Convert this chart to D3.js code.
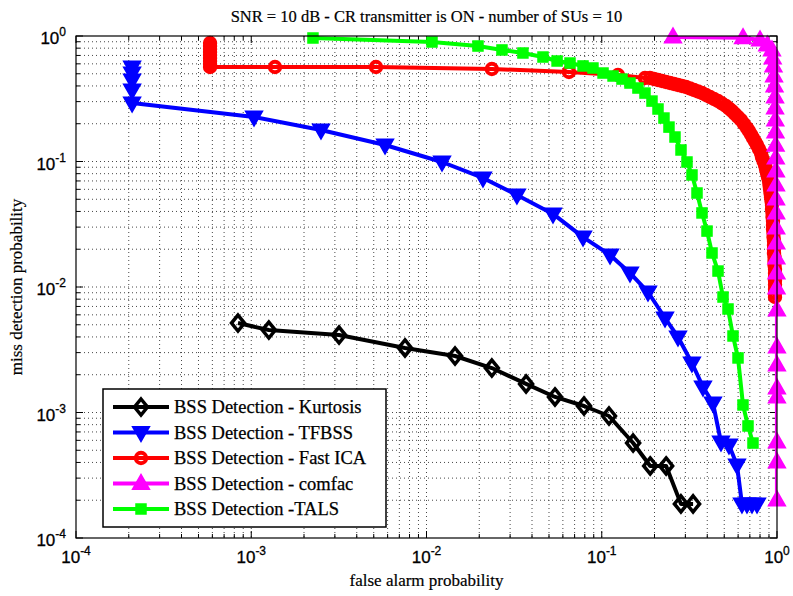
<!DOCTYPE html>
<html>
<head>
<meta charset="utf-8">
<script src="https://cdn.jsdelivr.net/npm/d3@7"></script>
<style>
body { margin: 0; background: #fff; }
svg { display: block; }
.serif { font-family: "Liberation Serif", "Times New Roman", serif; }
.sans { font-family: "Liberation Sans", Arial, sans-serif; }
</style>
</head>
<body>
<svg id="chart" width="793" height="596"></svg>
<script>
// values (pfa, pmd)
var kurtosisX = [8.4e-4, 1.26e-3, 3.17e-3, 7.54e-3, 1.455e-2, 2.36e-2, 3.70e-2, 5.41e-2, 7.92e-2, 0.110, 0.151, 0.189, 0.233, 0.283, 0.332];
var kurtosisY = [5.16e-3, 4.54e-3, 4.14e-3, 3.27e-3, 2.82e-3, 2.26e-3, 1.69e-3, 1.33e-3, 1.127e-3, 9.38e-4, 5.71e-4, 3.75e-4, 3.75e-4, 1.87e-4, 1.87e-4];

var tfbssX = [2.09e-4, 2.09e-4, 2.09e-4, 2.09e-4, 2.09e-4, 1.037e-3, 2.50e-3, 5.80e-3, 1.226e-2, 2.10e-2, 3.28e-2, 5.27e-2, 7.82e-2, 0.1115, 0.1449, 0.1836, 0.2296, 0.2723, 0.327, 0.378, 0.431, 0.479, 0.532, 0.591, 0.631, 0.674, 0.720, 0.769];
var tfbssY = [0.566, 0.507, 0.446, 0.371, 0.292, 0.226, 0.178, 0.1353, 0.0991, 0.0739, 0.0541, 0.0382, 0.0250, 0.0180, 0.01293, 9.12e-3, 5.66e-3, 4.0e-3, 2.48e-3, 1.60e-3, 1.19e-3, 5.82e-4, 5.51e-4, 3.82e-4, 1.87e-4, 1.87e-4, 1.87e-4, 1.87e-4];

var fastIcaX = [5.82e-4, 5.82e-4, 5.82e-4, 5.82e-4, 5.82e-4, 5.82e-4, 5.82e-4, 5.82e-4, 5.82e-4, 1.366e-3, 5.15e-3, 2.36e-2, 6.50e-2, 0.1238, 0.1765,
	0.1885, 0.1987, 0.2094, 0.2207, 0.2326, 0.2452, 0.2585, 0.2723, 0.2870, 0.3025, 0.3189, 0.3360, 0.3541, 0.3733, 0.3934, 0.4146, 0.4370, 0.4606, 0.4855, 0.5117,
	0.5323, 0.5537, 0.5760, 0.5992, 0.6233, 0.6484, 0.6743, 0.6922, 0.7106, 0.7296, 0.7490, 0.7689, 0.7893, 0.8102, 0.8209, 0.8375, 0.8542, 0.8655, 0.8769, 0.8885,
	0.9003, 0.9062, 0.9122, 0.9182, 0.9242, 0.9303, 0.9364, 0.9364, 0.9426, 0.9426, 0.9488, 0.9488, 0.9488, 0.9551, 0.9551, 0.9613, 0.9613, 0.9613, 0.9613, 0.9676,
	0.9676, 0.9676, 0.9741, 0.9741, 0.9741, 0.9741, 0.9741, 0.9741, 0.9741, 0.9741];
var fastIcaY = [0.880, 0.832, 0.788, 0.746, 0.706, 0.668, 0.632, 0.598, 0.566, 0.566, 0.566, 0.546, 0.517, 0.489, 0.463,
	0.4628, 0.4544, 0.4461, 0.4380, 0.4300, 0.4222, 0.4145, 0.4070, 0.3996, 0.3923, 0.3817, 0.3713, 0.3612, 0.3514, 0.3388, 0.3266, 0.3148, 0.3034, 0.2898, 0.2768,
	0.2644, 0.2526, 0.2390, 0.2262, 0.2141, 0.1990, 0.1849, 0.1750, 0.1641, 0.1539, 0.1443, 0.1353, 0.1258, 0.1169, 0.1086, 0.1009, 0.0938, 0.0872, 0.0810, 0.0752,
	0.0699, 0.0650, 0.0604, 0.0561, 0.0521, 0.0484, 0.0450, 0.0418, 0.0389, 0.0361, 0.0336, 0.0312, 0.0290, 0.0269, 0.0250, 0.0233, 0.0216, 0.0201, 0.0187, 0.0173,
	0.0161, 0.0150, 0.0139, 0.0129, 0.0120, 0.0112, 0.0104, 0.00964, 0.00896, 0.00832];

var comfacX = [0.255, 0.64, 0.80, 0.88, 0.936, 0.945, 0.955, 0.962, 0.968, 0.975, 0.975, 0.978, 0.980, 0.982, 0.984, 0.986, 0.987, 0.988, 0.989, 0.990, 0.991, 0.992, 0.993, 0.994, 0.999, 0.999, 0.999, 0.999, 0.999, 0.999, 0.999, 0.999];
var comfacY = [0.98, 0.97, 0.93, 0.848, 0.774, 0.668, 0.577, 0.480, 0.400, 0.327, 0.267, 0.214, 0.172, 0.135, 0.1067, 0.0840, 0.065, 0.0502, 0.0389, 0.0295, 0.0224, 0.0170, 0.0129, 0.0098, 6.56e-3, 3.33e-3, 2.39e-3, 1.57e-3, 1.33e-3, 5.82e-4, 4.03e-4, 2.01e-4];

var talsX = [2.25e-3, 1.075e-2, 0.01967, 0.02696, 0.0355, 0.0462, 0.0556, 0.0659, 0.0782, 0.0891, 0.1017, 0.1160, 0.1305, 0.1449, 0.1609, 0.1765, 0.1935, 0.2094, 0.2265, 0.2419, 0.2618, 0.2833, 0.3065, 0.3273, 0.3496, 0.3733, 0.3987, 0.4258, 0.4607, 0.4920, 0.5254, 0.5610, 0.5992, 0.6397, 0.6832, 0.7295];
var talsY = [0.964, 0.896, 0.832, 0.774, 0.732, 0.680, 0.632, 0.609, 0.577, 0.556, 0.507, 0.480, 0.454, 0.422, 0.385, 0.351, 0.303, 0.262, 0.222, 0.188, 0.1567, 0.1235, 0.0991, 0.0781, 0.0561, 0.0389, 0.0279, 0.01866, 0.0134, 0.00832, 0.00668, 0.00407, 0.00272, 0.001148, 7.81e-4, 5.71e-4];

var seriesNames = ["BSS Detection - Kurtosis", "BSS Detection - TFBSS", "BSS Detection - Fast ICA", "BSS Detection - comfac", "BSS Detection -TALS"];
var decades = [-4, -3, -2, -1, 0];

var cfg = { left: 76, right: 777, top: 36, bottom: 538 };

var series = [
	{ name: seriesNames[0], xs: kurtosisX, ys: kurtosisY, color: "#000000", marker: "diamond" },
	{ name: seriesNames[1], xs: tfbssX, ys: tfbssY, color: "#0000ff", marker: "tridown" },
	{ name: seriesNames[2], xs: fastIcaX, ys: fastIcaY, color: "#ff0000", marker: "circle" },
	{ name: seriesNames[3], xs: comfacX, ys: comfacY, color: "#ff00ff", marker: "triup" },
	{ name: seriesNames[4], xs: talsX, ys: talsY, color: "#00ff00", marker: "square" }
];

var svg = d3.select("#chart");

var x = d3.scaleLog().domain([1e-4, 1]).range([cfg.left, cfg.right]);
var y = d3.scaleLog().domain([1e-4, 1]).range([cfg.bottom, cfg.top]);

// all ticks, major and minor
var allTicks = [];
decades.forEach(function(e) {
	for (var m = 1; m <= 9; m++) {
		if (e === 0 && m > 1) break;
		allTicks.push({ v: m * Math.pow(10, e), major: m === 1 });
	}
});

var grid = svg.append("g");
allTicks.forEach(function(t) {
	if (t.v > 1e-4 && t.v < 1) {
		grid.append("line")
		.attr("x1", x(t.v)).attr("x2", x(t.v))
		.attr("y1", cfg.top).attr("y2", cfg.bottom)
		.attr("stroke", "#333").attr("stroke-width", 0.9)
		.attr("stroke-dasharray", "1,3");
		grid.append("line")
		.attr("y1", y(t.v)).attr("y2", y(t.v))
		.attr("x1", cfg.left).attr("x2", cfg.right)
		.attr("stroke", "#333").attr("stroke-width", 0.9)
		.attr("stroke-dasharray", "1,3");
	}
});

// ticks inside on all four sides
var tk = svg.append("g").attr("stroke", "#000").attr("stroke-width", 1);
allTicks.forEach(function(t) {
	var len = t.major ? 7 : 4;
	var xv = x(t.v), yv = y(t.v);
	tk.append("line").attr("x1", xv).attr("x2", xv).attr("y1", cfg.bottom).attr("y2", cfg.bottom - len);
	tk.append("line").attr("x1", xv).attr("x2", xv).attr("y1", cfg.top).attr("y2", cfg.top + len);
	tk.append("line").attr("y1", yv).attr("y2", yv).attr("x1", cfg.left).attr("x2", cfg.left + len);
	tk.append("line").attr("y1", yv).attr("y2", yv).attr("x1", cfg.right).attr("x2", cfg.right - len);
});

// tick labels
decades.forEach(function(e) {
	var v = Math.pow(10, e);
	var tx = svg.append("text")
	.attr("class", "sans")
	.attr("x", x(v)).attr("y", 563)
	.attr("text-anchor", "middle")
	.attr("font-size", 17)
	.attr("stroke", "#000").attr("stroke-width", 0.3);
	tx.append("tspan").text("10");
	tx.append("tspan").attr("dy", -8).attr("font-size", 12).text(e);

	var ty = svg.append("text")
	.attr("class", "sans")
	.attr("x", 66).attr("y", y(v) + 8)
	.attr("text-anchor", "end")
	.attr("font-size", 17)
	.attr("stroke", "#000").attr("stroke-width", 0.3);
	ty.append("tspan").text("10");
	ty.append("tspan").attr("dy", -8).attr("font-size", 12).text(e);
});

svg.append("clipPath").attr("id", "plotclip")
.append("rect")
.attr("x", cfg.left).attr("y", cfg.top)
.attr("width", cfg.right - cfg.left).attr("height", cfg.bottom - cfg.top);

function drawMarker(g, kind, color, px, py) {
	if (kind === "diamond") {
		g.append("path")
		.attr("d", "M" + px + "," + (py - 8) + "L" + (px + 6.5) + "," + py + "L" + px + "," + (py + 8) + "L" + (px - 6.5) + "," + py + "Z")
		.attr("fill", "none").attr("stroke", color).attr("stroke-width", 3.5);
	} else if (kind === "tridown") {
		g.append("path")
		.attr("d", "M" + (px - 8) + "," + (py - 5.5) + "L" + (px + 8) + "," + (py - 5.5) + "L" + px + "," + (py + 8.5) + "Z")
		.attr("fill", color).attr("stroke", color).attr("stroke-width", 2);
	} else if (kind === "triup") {
		g.append("path")
		.attr("d", "M" + (px - 8) + "," + (py + 5.5) + "L" + (px + 8) + "," + (py + 5.5) + "L" + px + "," + (py - 8.5) + "Z")
		.attr("fill", color).attr("stroke", color).attr("stroke-width", 2);
	} else if (kind === "circle") {
		g.append("circle")
		.attr("cx", px).attr("cy", py).attr("r", 5.2)
		.attr("fill", "none").attr("stroke", color).attr("stroke-width", 4);
	} else if (kind === "square") {
		g.append("rect")
		.attr("x", px - 5).attr("y", py - 5).attr("width", 10).attr("height", 10)
		.attr("fill", color).attr("stroke", color).attr("stroke-width", 1.5);
	}
}

var line = d3.line()
.x(function(d) { return x(d[0]); })
.y(function(d) { return y(d[1]); });

series.forEach(function(s) {
	var pts = s.xs.map(function(v, i) { return [v, s.ys[i]]; });
	var g = svg.append("g");
	g.append("path")
	.attr("d", line(pts))
	.attr("clip-path", "url(#plotclip)")
	.attr("fill", "none")
	.attr("stroke", s.color)
	.attr("stroke-width", 4)
	.attr("stroke-linejoin", "round");
	pts.forEach(function(p) {
		drawMarker(g, s.marker, s.color, x(p[0]), y(p[1]));
	});
});

// axes box
svg.append("rect")
.attr("x", cfg.left).attr("y", cfg.top)
.attr("width", cfg.right - cfg.left).attr("height", cfg.bottom - cfg.top)
.attr("fill", "none").attr("stroke", "#000").attr("stroke-width", 1.2);

// legend
var leg = svg.append("g");
leg.append("rect")
.attr("x", 103).attr("y", 389).attr("width", 283).attr("height", 138)
.attr("fill", "#fff").attr("stroke", "#000").attr("stroke-width", 1.5);
series.forEach(function(s, i) {
	var ly = 407 + i * 25.5;
	leg.append("line")
	.attr("x1", 113).attr("x2", 169).attr("y1", ly).attr("y2", ly)
	.attr("stroke", s.color).attr("stroke-width", 4);
	drawMarker(leg, s.marker, s.color, 141, ly);
	leg.append("text")
	.attr("class", "serif")
	.attr("x", 174).attr("y", ly + 6)
	.attr("font-size", 18.5)
	.attr("stroke", "#000").attr("stroke-width", 0.25)
	.text(s.name);
});

// title and labels
svg.append("text")
.attr("class", "serif")
.attr("x", (cfg.left + cfg.right) / 2).attr("y", 22)
.attr("text-anchor", "middle")
.attr("font-size", 16.5)
.attr("stroke", "#000").attr("stroke-width", 0.2)
.text("SNR = 10 dB - CR transmitter is ON - number of SUs = 10");

svg.append("text")
.attr("class", "serif")
.attr("x", (cfg.left + cfg.right) / 2).attr("y", 586)
.attr("text-anchor", "middle")
.attr("font-size", 17)
.attr("stroke", "#000").attr("stroke-width", 0.2)
.text("false alarm probability");

svg.append("text")
.attr("class", "serif")
.attr("transform", "translate(22," + ((cfg.top + cfg.bottom) / 2) + ") rotate(-90)")
.attr("text-anchor", "middle")
.attr("font-size", 17)
.attr("stroke", "#000").attr("stroke-width", 0.2)
.text("miss detection probability");
</script>
</body>
</html>
